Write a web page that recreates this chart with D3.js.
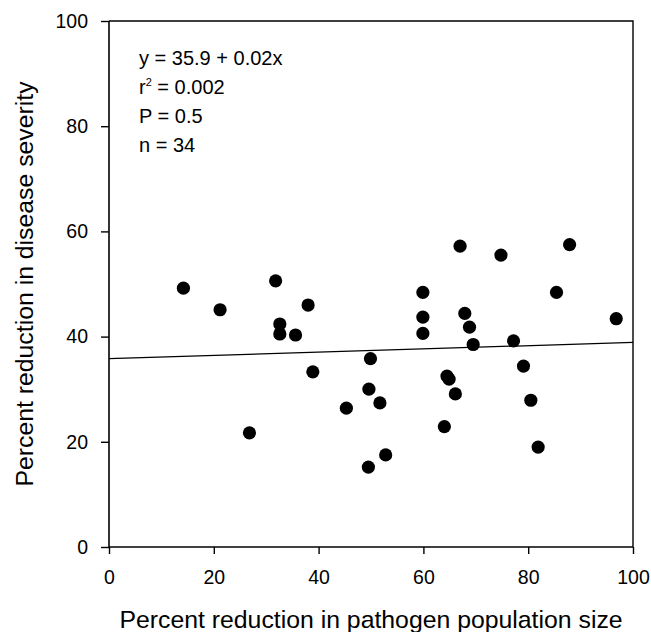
<!DOCTYPE html>
<html>
<head>
<meta charset="utf-8">
<script src="https://cdn.jsdelivr.net/npm/d3@7"></script>
<style>
  body { margin: 0; background: #fff; }
  text { font-family: "Liberation Sans", Arial, sans-serif; fill: #000; }
</style>
</head>
<body>
<svg id="chart"></svg>
<script>
// data
const pathogenReduction = [14.2, 21.2, 26.8, 31.8, 32.6, 32.6, 35.6, 38.0, 38.9,
    45.3, 49.5, 49.6, 49.9, 51.7, 52.8, 59.9, 59.9, 59.9,
    64.0, 64.5, 64.9, 66.1, 67.0, 67.9, 68.8, 69.5,
    74.8, 77.2, 79.1, 80.5, 81.9, 85.4, 87.9, 96.8];
const severityReduction = [49.2, 45.1, 21.7, 50.6, 42.4, 40.5, 40.3, 46.0, 33.3,
    26.4, 15.2, 30.0, 35.8, 27.4, 17.5, 48.4, 43.7, 40.6,
    22.9, 32.5, 31.9, 29.1, 57.2, 44.4, 41.8, 38.5,
    55.5, 39.2, 34.4, 27.9, 19.0, 48.4, 57.5, 43.4];
const fitX = [0, 100];
const fitY = [35.8, 38.9];
const xTicks = [0, 20, 40, 60, 80, 100];
const yTicks = [0, 20, 40, 60, 80, 100];
const statLines = ['y = 35.9 + 0.02x', 'r2 = 0.002', 'P = 0.5', 'n = 34'];

// set the dimensions and margins of the graph
const W = 651, H = 632;
const margin = { top: 21, right: 18, bottom: 85, left: 109 };
const w = W - margin.left - margin.right;
const h = H - margin.top - margin.bottom;

const svg = d3.select('#chart')
    .attr('width', W)
    .attr('height', H);

const g = svg.append('g')
    .attr('transform', `translate(${margin.left}, ${margin.top})`);

const xScale = d3.scaleLinear().domain([0, 100]).range([0, w]);
const yScale = d3.scaleLinear().domain([0, 100]).range([h, 0]);

// axes
const xAxis = g.append('g')
    .attr('transform', `translate(0, ${h})`)
    .call(d3.axisBottom(xScale).tickValues(xTicks).tickSize(7).tickPadding(16));
const yAxis = g.append('g')
    .call(d3.axisLeft(yScale).tickValues(yTicks).tickSize(8).tickPadding(13));

[xAxis, yAxis].forEach(ax => {
    ax.selectAll('.domain').attr('stroke', '#000').attr('stroke-width', 1.6);
    ax.selectAll('.tick line').attr('stroke', '#000').attr('stroke-width', 1.4);
    ax.selectAll('.tick text').style('font-size', '19.5px')
        .style('font-family', '"Liberation Sans", Arial, sans-serif');
});
yAxis.select('.domain').attr('d', `M0,${h}V0`);
xAxis.select('.domain').attr('d', `M0,0H${w}`);

// top and right frame
g.append('path')
    .attr('d', `M0,0H${w}V${h}`)
    .attr('fill', 'none')
    .attr('stroke', '#000')
    .attr('stroke-width', 1.4);

// regression line
g.append('line')
    .attr('x1', xScale(fitX[0]))
    .attr('y1', yScale(fitY[0]))
    .attr('x2', xScale(fitX[1]))
    .attr('y2', yScale(fitY[1]))
    .attr('stroke', '#000')
    .attr('stroke-width', 1.3);

// the points
g.selectAll('.dot')
    .data(pathogenReduction.map((x, i) => ({ x: x, y: severityReduction[i] })))
    .enter()
    .append('circle')
    .attr('class', 'dot')
    .attr('cx', d => xScale(d.x))
    .attr('cy', d => yScale(d.y))
    .attr('r', 6.6)
    .attr('fill', '#000');

// statistics text
const stats = g.append('g').attr('transform', 'translate(30, 0)');
statLines.forEach((s, i) => {
    const t = stats.append('text')
        .attr('y', 44 + i * 29)
        .style('font-size', '20px');
    if (s.startsWith('r2')) {
        t.append('tspan').text('r');
        t.append('tspan').text('2').attr('dy', -8).style('font-size', '11px');
        t.append('tspan').text(' = 0.002').attr('dy', 8);
    } else {
        t.text(s);
    }
});

// axis titles
svg.append('text')
    .attr('x', margin.left + w / 2)
    .attr('y', 628)
    .attr('text-anchor', 'middle')
    .style('font-size', '24.8px')
    .text('Percent reduction in pathogen population size');

svg.append('text')
    .attr('transform', `translate(33, ${margin.top + h / 2}) rotate(-90)`)
    .attr('text-anchor', 'middle')
    .style('font-size', '24.8px')
    .text('Percent reduction in disease severity');
</script>
</body>
</html>
